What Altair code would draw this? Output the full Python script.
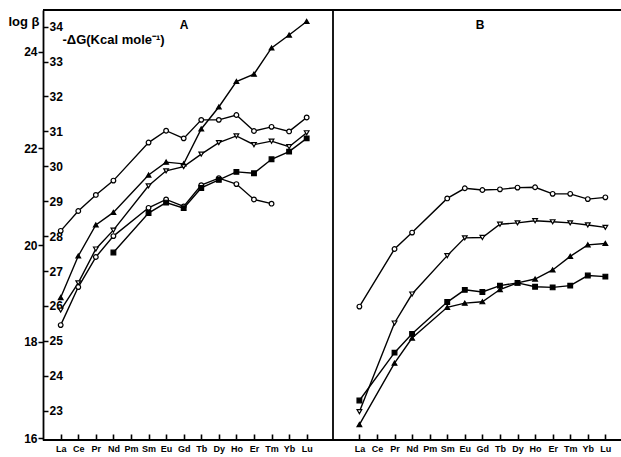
import altair as alt
import pandas as pd

elements = ['La', 'Ce', 'Pr', 'Nd', 'Pm', 'Sm', 'Eu', 'Gd', 'Tb', 'Dy', 'Ho', 'Er', 'Tm', 'Yb', 'Lu']

# Panel A  (-dG, kcal/mol)
A_open_circle = [28.15, 28.72, 29.18, 29.59, None, 30.68, 31.02, 30.80, 31.33, 31.33, 31.47, 31.01, 31.13, 31.00, 31.40]
A_filled_triangle = [26.24, 27.43, 28.32, 28.68, None, 29.75, 30.12, 30.07, 31.07, 31.70, 32.43, 32.64, 33.39, 33.76, 34.15]
A_open_tri_down = [25.88, 26.66, 27.63, 28.17, None, 29.44, 29.87, 29.99, 30.35, 30.68, 30.87, 30.62, 30.72, 30.56, 30.96]
A_open_circle_2 = [25.45, 26.54, 27.40, 28.00, None, 28.81, 29.05, 28.85, 29.46, 29.66, 29.49, 29.05, 28.93, None, None]
A_filled_square = [None, None, None, 27.53, None, 28.66, 28.96, 28.80, 29.38, 29.61, 29.84, 29.80, 30.20, 30.42, 30.80]

# Panel B  (same scale)
B_open_circle = [25.98, None, 27.63, 28.10, None, 29.08, 29.37, 29.32, 29.34, 29.39, 29.40, 29.21, 29.21, 29.06, 29.11]
B_open_tri_down = [22.97, None, 25.51, 26.34, None, 27.44, 27.95, 27.96, 28.34, 28.38, 28.44, 28.41, 28.38, 28.32, 28.25]
B_filled_square = [23.29, None, 24.66, 25.20, None, 26.11, 26.46, 26.40, 26.58, 26.66, 26.55, 26.53, 26.58, 26.87, 26.84]
B_filled_triangle = [22.60, None, 24.36, 25.08, None, 25.96, 26.08, 26.12, 26.47, 26.66, 26.77, 27.03, 27.42, 27.75, 27.79]

dg_ticks = list(range(23, 35))
logb_ticks = [16, 18, 20, 22, 24]
panel_labels = ['A', 'B']
dg_title = '-ΔG(Kcal mole⁻¹)'
logb_title = 'log β'

B_OFFSET = 17  # panel B placed 17 element-steps to the right on the shared x scale

series = [
    ('A', 'oc1', 'circle', 'open', A_open_circle),
    ('A', 'ft', 'triangle-up', 'filled', A_filled_triangle),
    ('A', 'otd', 'triangle-down', 'open', A_open_tri_down),
    ('A', 'oc2', 'circle', 'open', A_open_circle_2),
    ('A', 'fs', 'square', 'filled', A_filled_square),
    ('B', 'oc', 'circle', 'open', B_open_circle),
    ('B', 'otd', 'triangle-down', 'open', B_open_tri_down),
    ('B', 'fs', 'square', 'filled', B_filled_square),
    ('B', 'ft', 'triangle-up', 'filled', B_filled_triangle),
]
rows = []
for panel, name, shape, fill, vals in series:
    off = 0 if panel == 'A' else B_OFFSET
    for i, v in enumerate(vals):
        if v is not None:
            rows.append(dict(u=i + off, dg=v, series=panel + name, shape=shape, fill=fill))
df = pd.DataFrame(rows)

W, H = 578, 430
FONT = 'Liberation Sans'
TICK = 6

xscale = alt.Scale(domain=[-1.007, 31.89], nice=False, zero=False)
yscale = alt.Scale(domain=[22.158, 34.478], nice=False, zero=False)
lbscale = alt.Scale(domain=[15.959, 24.870], nice=False, zero=False)

tick_positions = list(range(len(elements))) + [i + B_OFFSET for i in range(len(elements))]
label_expr = ("[" + ",".join("'%s'" % e for e in elements) + "]"
              "[datum.value >= %d ? datum.value - %d : datum.value]" % (B_OFFSET, B_OFFSET))

# bottom axis lifted into the plot by the tick length so that the ticks point inward
x_axis_bottom = alt.Axis(orient='bottom', offset=-TICK, values=tick_positions, labelExpr=label_expr,
                         ticks=True, tickSize=TICK, tickWidth=1.6, tickColor='black', tickOpacity=1,
                         labelPadding=4, domain=False, grid=False,
                         title='', labelFont=FONT, labelFontSize=9, labelFontWeight='bold',
                         labelColor='black', labelOverlap=False, labelFlush=False)
dg_axis = alt.Axis(orient='right', offset=-W, values=dg_ticks, tickSize=5, tickWidth=1.5, tickColor='black',
                   labelPadding=1, domain=False, grid=False, format='d',
                   labelFont=FONT, labelFontSize=12, labelFontWeight='bold', labelColor='black',
                   title=dg_title, titleAngle=0, titleX=19, titleY=33, titleAlign='left',
                   titleBaseline='alphabetic', titleFont=FONT, titleFontSize=13, titleFontWeight='bold',
                   titleColor='black')

lines = alt.Chart(df).mark_line(color='black', strokeWidth=1.4).encode(
    x=alt.X('u:Q', scale=xscale, axis=x_axis_bottom),
    y=alt.Y('dg:Q', scale=yscale, axis=dg_axis),
    detail='series:N',
)
points = alt.Chart(df).mark_point(filled=True, stroke='black', strokeWidth=1.2, size=22, opacity=1).encode(
    x=alt.X('u:Q', scale=xscale, axis=x_axis_bottom),
    y=alt.Y('dg:Q', scale=yscale, axis=dg_axis),
    shape=alt.Shape('shape:N', scale=alt.Scale(domain=['circle', 'triangle-up', 'triangle-down', 'square'],
                                               range=['circle', 'triangle-up', 'triangle-down', 'square']),
                    legend=None),
    fill=alt.Fill('fill:N', scale=alt.Scale(domain=['open', 'filled'], range=['white', 'black']), legend=None),
)
inner = alt.layer(lines, points)

lb_df = pd.DataFrame({'lb': logb_ticks})
logb_layer = alt.Chart(lb_df).mark_point(opacity=0).encode(
    x=alt.value(0),
    y=alt.Y('lb:Q', scale=lbscale,
            axis=alt.Axis(orient='left', values=logb_ticks, tickSize=5, tickWidth=1.5, tickColor='black',
                          labelPadding=1, domain=True, domainWidth=1.8, domainColor='black', grid=False,
                          format='d', labelFont=FONT, labelFontSize=12, labelFontWeight='bold',
                          labelColor='black', title=logb_title, titleAngle=0, titleX=-35, titleY=15,
                          titleAlign='left', titleBaseline='alphabetic', titleFont=FONT,
                          titleFontSize=13, titleFontWeight='bold', titleColor='black')),
)

one = pd.DataFrame({'a': [0]})
top_rule = alt.Chart(one).mark_rule(color='black', strokeWidth=1.8).encode(
    x=alt.value(0), x2=alt.value(W), y=alt.value(0))
bottom_rule = alt.Chart(one).mark_rule(color='black', strokeWidth=1.8).encode(
    x=alt.value(0), x2=alt.value(W), y=alt.value(H))
div_rule = alt.Chart(one).mark_rule(color='black', strokeWidth=1.8).encode(
    x=alt.value(290), y=alt.value(0), y2=alt.value(H))
text_a = alt.Chart(one).mark_text(font=FONT, fontSize=12, fontWeight='bold', color='black',
                                  baseline='middle', align='center').encode(
    x=alt.value(141), y=alt.value(15), text=alt.value(panel_labels[0]))
text_b = alt.Chart(one).mark_text(font=FONT, fontSize=12, fontWeight='bold', color='black',
                                  baseline='middle', align='center').encode(
    x=alt.value(437), y=alt.value(15), text=alt.value(panel_labels[1]))

chart = alt.layer(inner, logb_layer, top_rule, bottom_rule, div_rule, text_a, text_b).resolve_scale(
    x='independent', y='independent'
).resolve_axis(
    x='independent', y='independent'
).properties(
    width=W, height=H,
    autosize=alt.AutoSizeParams(type='none'),
    padding={'left': 43, 'top': 10, 'right': 0, 'bottom': 17},
).configure_view(stroke='transparent').configure_axis(grid=False)

chart.save('out.html', embed_options={'renderer': 'svg', 'actions': False})
